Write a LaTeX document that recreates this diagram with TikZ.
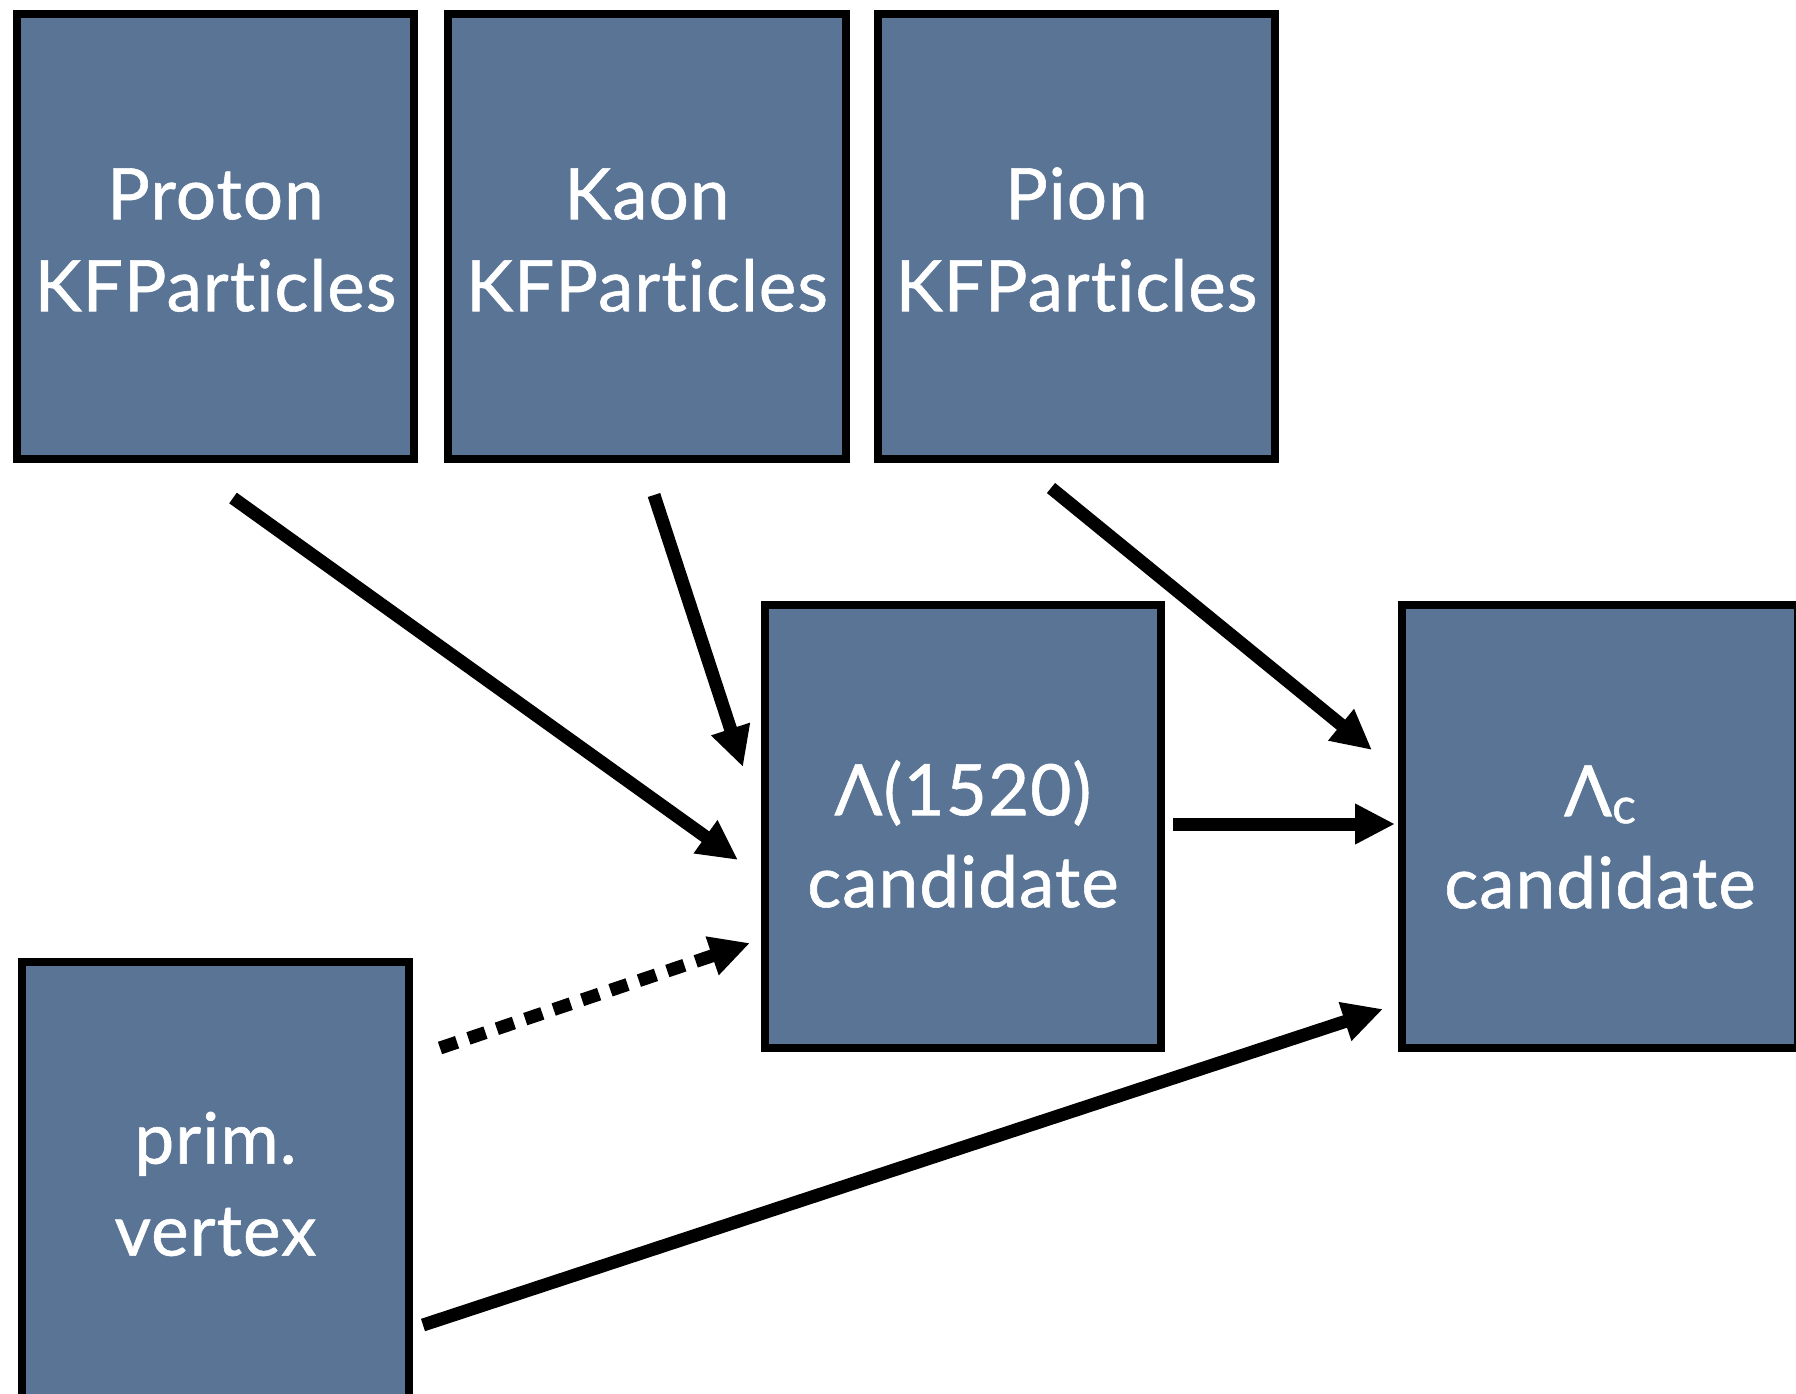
\documentclass[tikz,border=0pt]{standalone}
\usepackage{fontspec}
\setmainfont{Lato}[Ligatures=NoCommon]
\usetikzlibrary{arrows.meta}
\definecolor{boxblue}{RGB}{89,116,148}
\begin{document}
\begin{tikzpicture}[x=1pt,y=-1pt]
\tikzset{
  box/.style={draw=black, line width=8pt, fill=boxblue, text=white, inner sep=0pt,
    align=center, font=\fontsize{71}{92}\selectfont\addfontfeature{LetterSpace=1.5,FakeBold=0.8}},
  arr/.style={line width=13pt, -{Triangle[length=40pt,width=38pt]}},
  dasharr/.style={arr, dash pattern=on 18pt off 12pt},
}
\useasboundingbox (0,0) rectangle (1796,1393);
\fill[white] (0,0) rectangle (1796,1393);

\node[box, minimum width=397pt, minimum height=445pt] (proton) at (215.5,236.5) {\rule{0pt}{58pt}Proton\\KFParticles};
\node[box, minimum width=398pt, minimum height=445pt] (kaon) at (647,236.5) {\rule{0pt}{58pt}Kaon\\KFParticles};
\node[box, minimum width=397pt, minimum height=445pt] (pion) at (1076.5,236.5) {\rule{0pt}{58pt}Pion\\KFParticles};
\node[box, minimum width=396pt, minimum height=443pt] (lam) at (963,826.5) {\rule{0pt}{70pt}Λ(1520)\\candidate};
\node[box, minimum width=396pt, minimum height=443pt] (lamc) at (1600,826.5) {\rule{0pt}{72pt}Λ\raisebox{-0.1em}{\fontsize{50}{50}\selectfont c}\\candidate};
\node[box, minimum width=387pt, minimum height=445pt] (prim) at (215.5,1184) {prim.\\vertex};

\coordinate (a1s) at (233,498);  \coordinate (a1e) at (738,860);
\coordinate (a2s) at (654,495);  \coordinate (a2e) at (743,767);
\coordinate (a3s) at (1051,488); \coordinate (a3e) at (1372,750);
\coordinate (a4s) at (1173,824); \coordinate (a4e) at (1395,824);
\coordinate (a5s) at (440,1048); \coordinate (a5e) at (750,943);
\coordinate (a6s) at (423,1325); \coordinate (a6e) at (1383,1009);

\draw[arr] (a1s) -- (a1e);
\draw[arr] (a2s) -- (a2e);
\draw[arr] (a3s) -- (a3e);
\draw[arr] (a4s) -- (a4e);
\draw[dasharr] (a5s) -- (a5e);
\draw[arr] (a6s) -- (a6e);
\end{tikzpicture}
\end{document}
